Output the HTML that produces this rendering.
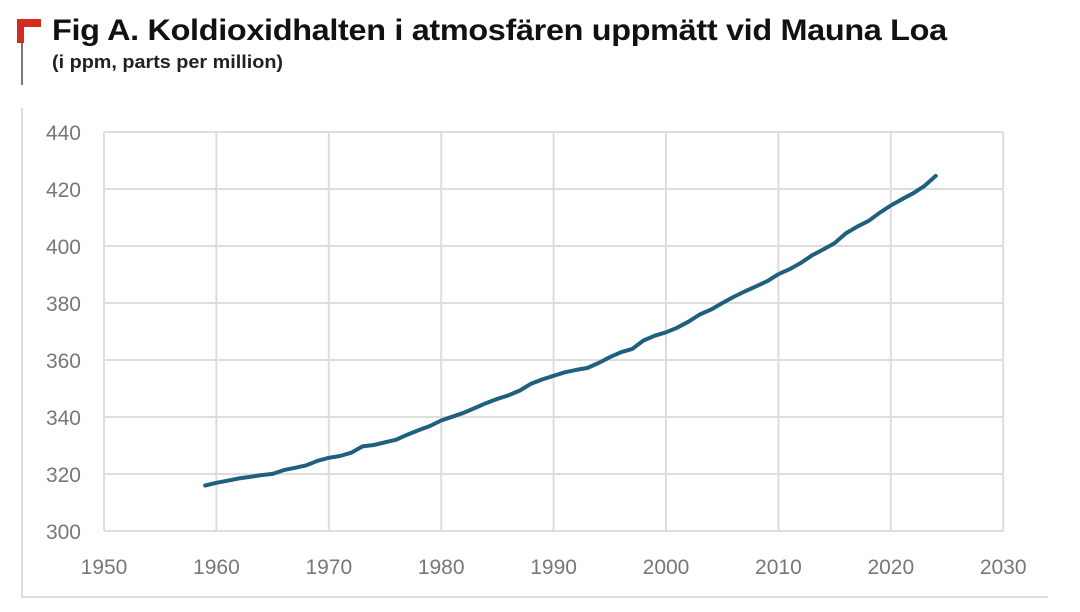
<!DOCTYPE html>
<html><head><meta charset="utf-8"><style>
html,body{margin:0;padding:0;background:#fff;}
body{width:1080px;height:612px;position:relative;overflow:hidden;font-family:"Liberation Sans",sans-serif;}
.t1{position:absolute;left:52px;top:14px;font-size:30px;font-weight:bold;color:#111;letter-spacing:-0.3px;white-space:nowrap;transform:scaleX(1.08);transform-origin:left top;}
.t2{position:absolute;left:52px;top:52px;font-size:18px;font-weight:bold;color:#222;white-space:nowrap;transform:scaleX(1.1);transform-origin:left top;}
</style></head><body>
<div style="position:absolute;left:17px;top:19px;width:24px;height:8px;background:#d42a20"></div>
<div style="position:absolute;left:17px;top:19px;width:7px;height:24px;background:#d42a20"></div>
<div style="position:absolute;left:21px;top:43px;width:1.5px;height:42px;background:#777"></div>
<div class="t1">Fig A. Koldioxidhalten i atmosfären uppmätt vid Mauna Loa</div>
<div class="t2">(i ppm, parts per million)</div>
<svg id="s" width="1080" height="612" style="position:absolute;left:0;top:0">
<path d="M22 108 V597 H1048" fill="none" stroke="#ddd" stroke-width="2"/>
</svg>
<script>
var s=document.getElementById('s'),h='';
function X(y){return 104+(y-1950)*11.24}
function Y(v){return 531-(v-300)*2.85}
for(var i=0;i<=8;i++){var x=X(1950+i*10);h+='<line x1="'+x+'" y1="132" x2="'+x+'" y2="531" stroke="#ddd" stroke-width="2"/>';
h+='<text x="'+x+'" y="574" text-anchor="middle" font-size="21" fill="#777" font-family="Liberation Sans,sans-serif">'+(1950+i*10)+'</text>';}
for(var i=0;i<=7;i++){var v=300+i*20,y=Y(v);h+='<line x1="104" y1="'+y+'" x2="1003" y2="'+y+'" stroke="#ddd" stroke-width="2"/>';
h+='<text x="81" y="'+(y+8)+'" text-anchor="end" font-size="21" fill="#777" font-family="Liberation Sans,sans-serif">'+v+'</text>';}
var d=[315.98,316.91,317.64,318.45,318.99,319.62,320.04,321.37,322.18,323.05,324.62,325.68,326.32,327.46,329.68,330.19,331.13,332.03,333.84,335.41,336.84,338.76,340.12,341.48,343.15,344.87,346.35,347.61,349.31,351.69,353.2,354.45,355.7,356.54,357.21,358.96,360.97,362.74,363.88,366.84,368.54,369.71,371.32,373.45,375.98,377.7,379.98,382.09,384.02,385.83,387.64,390.1,391.85,394.06,396.74,398.81,401.01,404.41,406.76,408.72,411.65,414.21,416.41,418.53,421.08,424.61];
var p='';for(var i=0;i<d.length;i++){p+=(i?'L':'M')+X(1959+i).toFixed(1)+' '+Y(d[i]).toFixed(1);}
h+='<path d="'+p+'" fill="none" stroke="#1f5f7f" stroke-width="4" stroke-linejoin="round" stroke-linecap="round"/>';
s.innerHTML+=h;
</script>
</body></html>
